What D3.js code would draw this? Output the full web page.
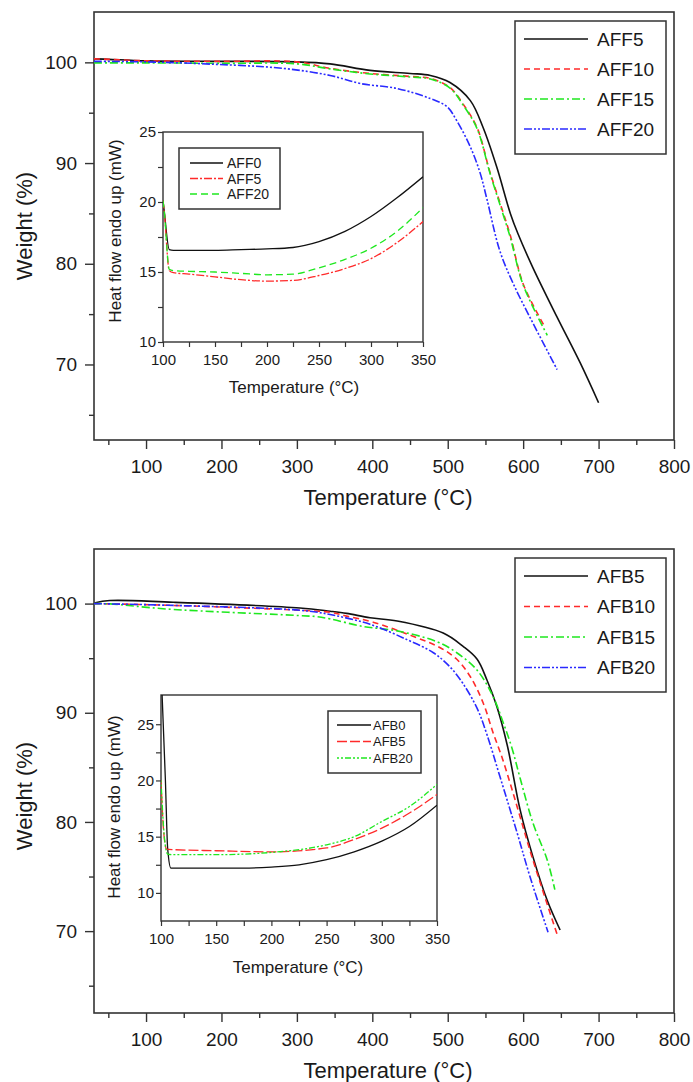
<!DOCTYPE html>
<html>
<head>
<meta charset="utf-8">
<script src="https://cdn.jsdelivr.net/npm/d3@7"></script>
<style>
  body { margin: 0; background: #fff; }
  svg { display: block; }
  text { font-family: Arial, "Liberation Sans", sans-serif; fill: #1a1a1a; }
</style>
</head>
<body>
<svg id="chart" width="693" height="1082"></svg>
<script>
// ---- top panel, TGA of AFF samples ----
const tAFF5  = [31, 50, 100, 200, 300, 344, 397, 450, 477, 503, 530, 547, 565, 583, 593, 613, 645, 676, 700];
const wAFF5  = [100.35, 100.3, 100.15, 100.1, 100.05, 99.85, 99.2, 98.9, 98.7, 98.0, 96.2, 93.5, 89.6, 85.0, 83.0, 79.6, 74.7, 70.1, 66.2];
const tAFF10 = [31, 50, 100, 200, 300, 344, 397, 450, 477, 503, 520, 539, 556, 573, 583, 600, 629];
const wAFF10 = [100.35, 100.3, 100.15, 100.1, 100.05, 99.4, 98.9, 98.6, 98.4, 97.5, 95.9, 93.5, 89.1, 85.2, 82.8, 78.0, 73.7];
const tAFF15 = [31, 50, 100, 200, 300, 344, 397, 450, 477, 503, 520, 539, 556, 573, 583, 600, 632];
const wAFF15 = [99.95, 99.95, 99.95, 99.9, 99.85, 99.35, 98.85, 98.55, 98.35, 97.45, 95.8, 93.4, 89.0, 85.0, 82.6, 77.9, 72.9];
const tAFF20 = [31, 100, 172, 282, 344, 384, 433, 477, 499, 512, 530, 543, 552, 569, 587, 613, 645];
const wAFF20 = [100.1, 100.05, 99.87, 99.4, 98.7, 97.9, 97.4, 96.4, 95.6, 94.2, 91.6, 89.0, 86.4, 81.3, 78.0, 74.1, 69.5];

// top inset, DSC
const tInsetTop = [100, 101, 106, 110, 125, 150, 175, 200, 225, 250, 275, 300, 325, 350];
const hAFF0  = [20.1, 19.5, 16.6, 16.55, 16.55, 16.55, 16.6, 16.65, 16.75, 17.17, 17.9, 18.96, 20.3, 21.8];
const hAFF5  = [20.1, 19.5, 15.1, 14.95, 14.85, 14.65, 14.45, 14.35, 14.4, 14.75, 15.25, 15.95, 17.1, 18.6];
const hAFF20 = [20.1, 19.5, 15.2, 15.1, 15.05, 15.0, 14.9, 14.8, 14.85, 15.3, 15.9, 16.7, 17.9, 19.6];

// ---- bottom panel, TGA of AFB samples ----
const tAFB5  = [31, 52, 136, 304, 344, 366, 397, 433, 494, 520, 539, 552, 565, 579, 596, 613, 632, 649];
const wAFB5  = [100.05, 100.28, 100.12, 99.6, 99.3, 99.1, 98.7, 98.4, 97.3, 96.1, 94.9, 93.0, 90.6, 87.0, 81.1, 76.8, 72.8, 70.1];
const tAFB10 = [31, 128, 304, 344, 366, 401, 454, 490, 512, 530, 547, 560, 573, 592, 609, 627, 646];
const wAFB10 = [100.0, 99.85, 99.39, 99.2, 98.85, 98.3, 97.0, 95.96, 94.9, 93.3, 90.9, 88.2, 85.7, 81.4, 77.4, 73.5, 69.5];
const tAFB15 = [31, 52, 128, 304, 327, 344, 388, 433, 486, 512, 539, 560, 573, 585, 596, 613, 632, 642];
const wAFB15 = [100.0, 99.97, 99.5, 98.9, 98.8, 98.6, 97.9, 97.5, 96.5, 95.5, 93.9, 91.5, 89.2, 86.8, 84.0, 79.9, 76.5, 73.8];
const tAFB20 = [31, 128, 304, 344, 397, 446, 481, 503, 520, 539, 552, 569, 592, 609, 633];
const wAFB20 = [100.0, 99.85, 99.39, 99.0, 98.1, 96.7, 95.5, 94.2, 92.7, 90.4, 88.0, 84.2, 79.0, 75.0, 69.9];

// bottom inset, DSC
const tAFB0i  = [101, 104, 106, 109, 125, 150, 175, 200, 225, 250, 275, 300, 325, 350];
const hAFB0   = [27.6, 20, 14, 12.2, 12.2, 12.2, 12.2, 12.3, 12.5, 12.95, 13.65, 14.6, 15.9, 17.8];
const tAFB5i  = [100, 102, 105, 110, 150, 200, 250, 275, 300, 325, 350];
const hAFB5   = [20, 16, 13.9, 13.85, 13.75, 13.65, 14.0, 14.75, 15.76, 17.1, 18.75];
const tAFB20i = [100, 103, 106, 110, 150, 175, 200, 250, 275, 300, 325, 350];
const hAFB20  = [20, 15, 13.45, 13.4, 13.4, 13.45, 13.6, 14.28, 15.0, 16.35, 17.68, 19.65];

// axis ticks
const weightTicks = [70, 80, 90, 100];
const weightMinor = [65, 75, 85, 95];
const tempTicks = [100, 200, 300, 400, 500, 600, 700, 800];
const tempMinor = [50, 150, 250, 350, 450, 550, 650, 750];
const insetXTicks = [100, 150, 200, 250, 300, 350];
const insetXMinor = [125, 175, 225, 275, 325];
const insetYTicks = [10, 15, 20, 25];
const insetYMinor = [12.5, 17.5, 22.5];

const RED = '#ff2a2a', GREEN = '#1fe81f', BLUE = '#2a2aff', BLACK = '#111';

const svg = d3.select('#chart');

function styleAxis(g, w) {
  g.select('.domain').remove();
  g.selectAll('line').attr('stroke', '#333').attr('stroke-width', w);
}

function addAxes(box, x, y, o) {
  const gy = svg.append('g').attr('transform', `translate(${box.l},0)`)
    .call(d3.axisLeft(y).tickValues(o.yTicks).tickSize(o.major).tickPadding(o.yPad).tickFormat(d3.format('d')));
  gy.selectAll('text').style('font-size', o.font + 'px').attr('fill', '#1a1a1a');
  styleAxis(gy, o.sw);
  const gym = svg.append('g').attr('transform', `translate(${box.l},0)`)
    .call(d3.axisLeft(y).tickValues(o.yMinor).tickSize(o.minor).tickFormat(''));
  styleAxis(gym, o.sw);

  const gx = svg.append('g').attr('transform', `translate(0,${box.b})`)
    .call(d3.axisBottom(x).tickValues(o.xTicks).tickSize(o.major).tickPadding(o.xPad).tickFormat(d3.format('d')));
  gx.selectAll('text').style('font-size', o.font + 'px').attr('fill', '#1a1a1a');
  styleAxis(gx, o.sw);
  const gxm = svg.append('g').attr('transform', `translate(0,${box.b})`)
    .call(d3.axisBottom(x).tickValues(o.xMinor).tickSize(o.minor).tickFormat(''));
  styleAxis(gxm, o.sw);

  svg.append('rect').attr('x', box.l).attr('y', box.t)
    .attr('width', box.r - box.l).attr('height', box.b - box.t)
    .attr('fill', 'none').attr('stroke', '#333').attr('stroke-width', o.frame);
}

let clipId = 0;
function addCurves(box, x, y, series, width, curve) {
  const id = 'clip' + (clipId++);
  svg.append('clipPath').attr('id', id).append('rect')
    .attr('x', box.l).attr('y', box.t).attr('width', box.r - box.l).attr('height', box.b - box.t);
  const line = d3.line().x(d => x(d[0])).y(d => y(d[1])).curve(curve);
  series.forEach(s => {
    svg.append('path')
      .attr('clip-path', `url(#${id})`)
      .attr('d', line(d3.zip(s.t, s.v)))
      .attr('fill', 'none')
      .attr('stroke', s.color)
      .attr('stroke-width', width)
      .attr('stroke-dasharray', s.dash);
  });
}

function addLegend(lg, series, width) {
  svg.append('rect').attr('x', lg.x).attr('y', lg.y).attr('width', lg.w).attr('height', lg.h)
    .attr('fill', '#fff').attr('stroke', '#333').attr('stroke-width', 1.5);
  series.forEach((s, i) => {
    const yy = lg.row0 + i * lg.step;
    svg.append('line').attr('x1', lg.lx1).attr('x2', lg.lx2).attr('y1', yy).attr('y2', yy)
      .attr('stroke', s.color).attr('stroke-width', width).attr('stroke-dasharray', s.dash);
    svg.append('text').attr('x', lg.tx).attr('y', yy).attr('dy', '0.36em')
      .style('font-size', lg.font + 'px').text(s.name);
  });
}

function mainPanel(p) {
  const x = d3.scaleLinear().domain([31, 800]).range([p.box.l, p.box.r]);
  const y = d3.scaleLinear().domain([62.5, 105]).range([p.box.b, p.box.t]);
  addAxes(p.box, x, y, {
    yTicks: weightTicks, yMinor: weightMinor, xTicks: tempTicks, xMinor: tempMinor,
    major: 9, minor: 5, yPad: 8, xPad: 11, font: 19, sw: 1.4, frame: 1.6
  });
  addCurves(p.box, x, y, p.series, 1.6, d3.curveCatmullRom.alpha(0.5));
  addLegend(p.legend, p.series, 1.6);
  svg.append('text').attr('transform', `translate(24,${p.yTitleY}) rotate(-90)`)
    .attr('text-anchor', 'middle').attr('dy', '0.35em').style('font-size', '22px').text('Weight (%)');
  svg.append('text').attr('x', 388).attr('y', p.xTitleY).attr('dy', '0.35em')
    .attr('text-anchor', 'middle').style('font-size', '22px').text('Temperature (°C)');
}

function insetPanel(p) {
  const x = d3.scaleLinear().domain([100, 350]).range([p.box.l, p.box.r]);
  const y = d3.scaleLinear().domain(p.yDomain).range([p.box.b, p.box.t]);
  svg.append('rect').attr('x', p.box.l).attr('y', p.box.t)
    .attr('width', p.box.r - p.box.l).attr('height', p.box.b - p.box.t).attr('fill', '#fff');
  addAxes(p.box, x, y, {
    yTicks: insetYTicks, yMinor: insetYMinor, xTicks: insetXTicks, xMinor: insetXMinor,
    major: 5, minor: 5, yPad: 2, xPad: 7, font: p.tickFont, sw: 1.2, frame: 1.4
  });
  addCurves(p.box, x, y, p.series, 1.3, d3.curveMonotoneX);
  addLegend(p.legend, p.series, 1.3);
  svg.append('text').attr('transform', `translate(${p.yTitle[0]},${p.yTitle[1]}) rotate(-90)`)
    .attr('text-anchor', 'middle').attr('dy', '0.35em').style('font-size', '17px').text('Heat flow endo up (mW)');
  svg.append('text').attr('x', p.xTitle[0]).attr('y', p.xTitle[1]).attr('dy', '0.35em')
    .attr('text-anchor', 'middle').style('font-size', '17px').text('Temperature (°C)');
}

// top panel
mainPanel({
  box: { l: 94, r: 674, t: 12, b: 440 },
  series: [
    { name: 'AFF5', t: tAFF5, v: wAFF5, color: BLACK, dash: null },
    { name: 'AFF10', t: tAFF10, v: wAFF10, color: RED, dash: '6,4' },
    { name: 'AFF15', t: tAFF15, v: wAFF15, color: GREEN, dash: '8,3,2,3' },
    { name: 'AFF20', t: tAFF20, v: wAFF20, color: BLUE, dash: '8,2,2,2,2,2' }
  ],
  legend: { x: 515, y: 21, w: 151, h: 133, row0: 39, step: 30, lx1: 524, lx2: 588, tx: 597, font: 19 },
  yTitleY: 226, xTitleY: 497
});

insetPanel({
  box: { l: 163, r: 423, t: 132, b: 342 },
  yDomain: [10, 25],
  tickFont: 15,
  series: [
    { name: 'AFF0', t: tInsetTop, v: hAFF0, color: BLACK, dash: null },
    { name: 'AFF5', t: tInsetTop, v: hAFF5, color: RED, dash: '8,2,2,2' },
    { name: 'AFF20', t: tInsetTop, v: hAFF20, color: GREEN, dash: '7,4' }
  ],
  legend: { x: 179, y: 148, w: 101, h: 61, row0: 163, step: 15.5, lx1: 190, lx2: 223, tx: 227, font: 14 },
  yTitle: [115, 231], xTitle: [294, 387]
});

// bottom panel
mainPanel({
  box: { l: 94, r: 674, t: 549, b: 1013 },
  series: [
    { name: 'AFB5', t: tAFB5, v: wAFB5, color: BLACK, dash: null },
    { name: 'AFB10', t: tAFB10, v: wAFB10, color: RED, dash: '6,4' },
    { name: 'AFB15', t: tAFB15, v: wAFB15, color: GREEN, dash: '8,3,2,3' },
    { name: 'AFB20', t: tAFB20, v: wAFB20, color: BLUE, dash: '8,2,2,2,2,2' }
  ],
  legend: { x: 515, y: 558, w: 151, h: 134, row0: 576, step: 30.5, lx1: 524, lx2: 588, tx: 597, font: 19 },
  yTitleY: 796, xTitleY: 1070
});

insetPanel({
  box: { l: 161, r: 437, t: 695, b: 921 },
  yDomain: [7.5, 27.6],
  tickFont: 15,
  series: [
    { name: 'AFB0', t: tAFB0i, v: hAFB0, color: BLACK, dash: null },
    { name: 'AFB5', t: tAFB5i, v: hAFB5, color: RED, dash: '10,3' },
    { name: 'AFB20', t: tAFB20i, v: hAFB20, color: GREEN, dash: '2,2,2,2,6,2' }
  ],
  legend: { x: 328, y: 711, w: 93, h: 62, row0: 725, step: 16.5, lx1: 337, lx2: 371, tx: 373, font: 13 },
  yTitle: [114, 807], xTitle: [298, 967]
});
</script>
</body>
</html>
